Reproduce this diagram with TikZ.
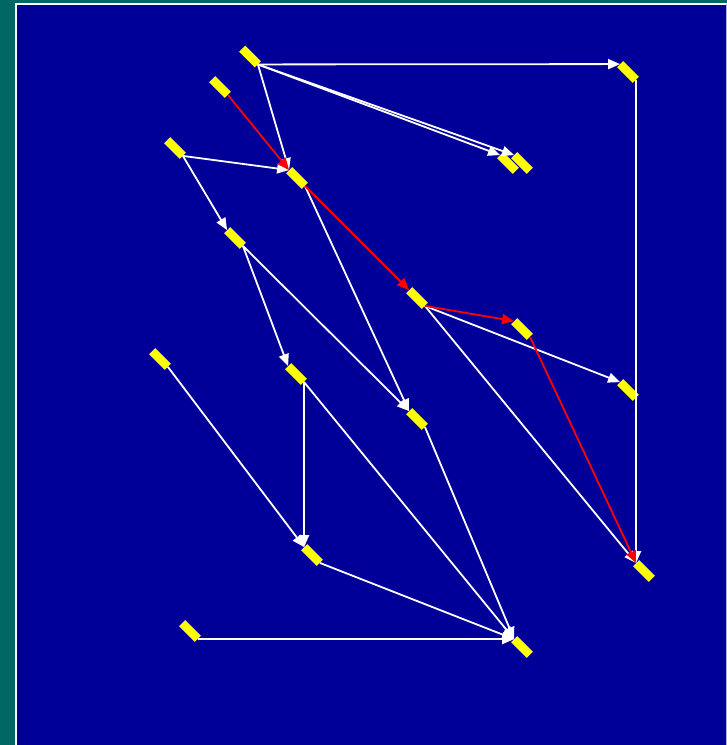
\documentclass[tikz,border=0pt]{standalone}
\usetikzlibrary{arrows.meta}
\definecolor{bgteal}{RGB}{0,102,102}
\definecolor{bgblue}{RGB}{0,0,153}
\definecolor{nodeyellow}{RGB}{255,255,0}
\begin{document}
\begin{tikzpicture}[x=1pt,y=-1pt,
  tok/.style={rectangle,fill=nodeyellow,draw=none,inner sep=0pt,minimum width=22pt,minimum height=8.5pt,rotate=-45},
  wedge/.style={draw=white,line width=1.8pt,-{Triangle[length=12pt,width=10pt]}},
  redge/.style={draw=red,line width=1.8pt,-{Triangle[length=12pt,width=10pt]}}]
\useasboundingbox (0,0) rectangle (727,745);
\fill[bgteal] (0,0) rectangle (727,745);
\fill[bgblue] (16,3) rectangle (727,746);
\draw[white,line width=2pt] (16,746) -- (16,4) -- (727,4);
\draw[white!70!bgblue,line width=1pt] (726.5,4) -- (726.5,745);

\node[tok] (A) at (250,56.5) {};
\node[tok] (B) at (220,87) {};
\node[tok] (C) at (628,72) {};
\node[tok] (D) at (175,148) {};
\node[tok] (E) at (297,178) {};
\node[tok] (F) at (508,163) {};
\node[tok] (G) at (522,163) {};
\node[tok] (H) at (235,238) {};
\node[tok] (I) at (417,298) {};
\node[tok] (J) at (522,329) {};
\node[tok] (K) at (160,359) {};
\node[tok] (L) at (296,374) {};
\node[tok] (M) at (628,390) {};
\node[tok] (N) at (417,419) {};
\node[tok] (O) at (312,555) {};
\node[tok] (P) at (644,571) {};
\node[tok] (Q) at (190,631) {};
\node[tok] (R) at (522,647) {};

\draw[wedge] (A.east) -- (C.west);
\draw[wedge] (A.east) -- (F.west);
\draw[wedge] (A.east) -- (G.west);
\draw[wedge] (A.east) -- (E.west);
\draw[wedge] (D.east) -- (E.west);
\draw[wedge] (D.east) -- (H.west);
\draw[wedge] (E.east) -- (N.west);
\draw[wedge] (H.east) -- (L.west);
\draw[wedge] (H.east) -- (N.west);
\draw[wedge] (I.east) -- (M.west);
\draw[wedge] (I.east) -- (P.west);
\draw[wedge] (C.east) -- (P.west);
\draw[wedge] (K.east) -- (O.west);
\draw[wedge] (L.east) -- (O.west);
\draw[wedge] (L.east) -- (R.west);
\draw[wedge] (N.east) -- (R.west);
\draw[wedge] (O.east) -- (R.west);
\draw[wedge] (Q.east) -- (R.west);
\draw[redge] (B.east) -- (E.west);
\draw[redge] (E.east) -- (I.west);
\draw[redge] (I.east) -- (J.west);
\draw[redge] (J.east) -- (P.west);
\end{tikzpicture}
\end{document}
